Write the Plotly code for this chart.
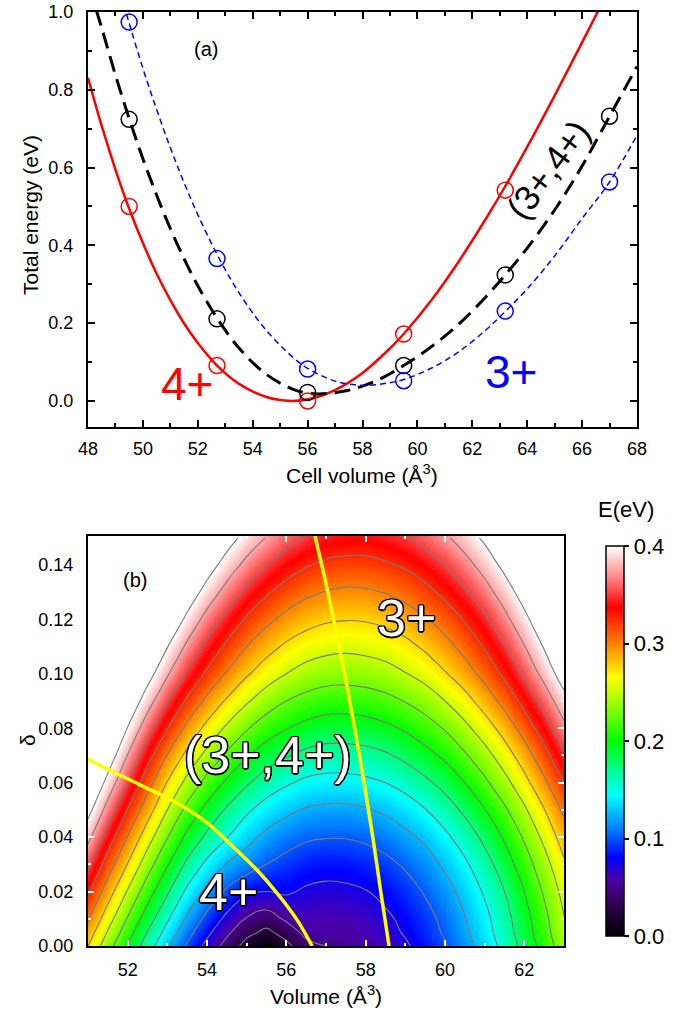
import numpy as np
import plotly.graph_objects as go

W, H = 685, 1019
FONT = "Liberation Sans, Arial, sans-serif"

# ---------------- panel (a): total energy vs cell volume ----------------
vol_pts = [49.5, 52.7, 56.0, 59.5, 63.2, 67.0]
e_4p_pts = [0.500, 0.091, 0.000, 0.172, 0.542]
e_34_pts = [0.724, 0.211, 0.022, 0.091, 0.324, 0.732]
e_3p_pts = [0.974, 0.366, 0.082, 0.052, 0.231, 0.563]

fit_v_4p = [48.0, 48.5, 49.0, 49.5, 50.0, 50.5, 51.0, 51.5, 52.0, 52.7, 53.5, 54.5, 55.4,
            56.2, 57.0, 58.0, 59.0, 59.5, 60.5, 61.5, 62.5, 63.2, 64.0, 65.0, 66.0, 66.6]
fit_e_4p = [0.831, 0.707, 0.595, 0.494, 0.406, 0.327, 0.259, 0.199, 0.149, 0.091, 0.044, 0.010, 0.000,
            0.007, 0.028, 0.072, 0.135, 0.172, 0.258, 0.358, 0.469, 0.552, 0.653, 0.785, 0.922, 1.005]

fit_v_34 = [48.3, 48.5, 49.0, 49.5, 50.0, 50.5, 51.0, 51.5, 52.0, 52.7, 53.5, 54.5, 55.5, 56.0,
            56.4, 57.4, 58.5, 59.5, 60.5, 61.5, 62.5, 63.2, 64.0, 65.0, 66.0, 67.0, 68.0]
fit_e_34 = [1.005, 0.959, 0.838, 0.726, 0.623, 0.529, 0.443, 0.366, 0.296, 0.213, 0.136, 0.068, 0.029, 0.020,
            0.018, 0.026, 0.052, 0.091, 0.139, 0.197, 0.268, 0.324, 0.393, 0.491, 0.604, 0.732, 0.860]

fit_v_3p = [49.4, 49.5, 50.0, 50.5, 51.0, 51.5, 52.0, 52.7, 53.5, 54.5, 55.5, 56.0, 57.0,
            58.0, 59.0, 59.5, 60.5, 61.5, 62.5, 63.2, 64.0, 65.0, 66.0, 67.0, 68.0]
fit_e_3p = [0.995, 0.971, 0.855, 0.749, 0.651, 0.561, 0.479, 0.377, 0.278, 0.181, 0.110, 0.084, 0.051,
            0.040, 0.047, 0.055, 0.084, 0.126, 0.183, 0.230, 0.288, 0.373, 0.469, 0.563, 0.683]

# ---------------- panel (b): energy map E(V, delta), in meV ----------------
vol_grid = [51.0, 51.5, 52.0, 52.5, 53.0, 53.5, 54.0, 54.5, 55.0, 55.5, 56.0, 56.5, 57.0,
            57.5, 58.0, 58.5, 59.0, 59.5, 60.0, 60.5, 61.0, 61.5, 62.0, 62.5, 63.0]
delta_grid = [0.0, 0.005, 0.01, 0.02, 0.03, 0.04, 0.05, 0.06, 0.07, 0.08, 0.09,
              0.10, 0.11, 0.12, 0.13, 0.14, 0.15]
energy_mev = [
    [275, 235, 198, 162, 129, 97, 68, 41, 16, 0, 18, 42, 50, 52, 56, 62, 72, 84, 98, 116, 135, 158, 183, 210, 240],
    [288, 248, 211, 174, 141, 109, 81, 55, 32, 19, 36, 57, 56, 57, 61, 68, 77, 89, 103, 121, 140, 163, 188, 215, 245],
    [302, 261, 223, 187, 153, 121, 93, 69, 48, 38, 54, 61, 59, 60, 64, 71, 80, 92, 106, 124, 143, 166, 191, 218, 249],
    [329, 287, 248, 211, 178, 145, 119, 96, 80, 75, 78, 72, 70, 71, 74, 81, 90, 102, 116, 133, 153, 175, 200, 228, 258],
    [355, 313, 274, 236, 202, 170, 144, 124, 112, 100, 92, 86, 83, 84, 88, 94, 103, 114, 129, 146, 165, 188, 213, 240, 271],
    [382, 339, 299, 261, 226, 194, 170, 151, 133, 119, 110, 103, 101, 101, 104, 110, 119, 130, 145, 161, 181, 203, 228, 256, 287],
    [409, 365, 324, 286, 250, 218, 193, 172, 154, 140, 130, 123, 120, 120, 123, 129, 138, 149, 163, 180, 199, 221, 246, 274, 305],
    [436, 391, 350, 310, 274, 243, 217, 196, 178, 163, 153, 145, 142, 142, 145, 150, 158, 170, 183, 200, 220, 242, 267, 295, 325],
    [462, 417, 374, 335, 299, 268, 243, 221, 202, 187, 177, 169, 165, 165, 167, 172, 181, 192, 205, 222, 241, 263, 288, 316, 347],
    [486, 440, 399, 360, 326, 294, 268, 246, 227, 212, 201, 193, 188, 188, 190, 195, 203, 214, 227, 244, 263, 285, 310, 338, 369],
    [500, 465, 423, 386, 352, 321, 294, 272, 253, 237, 225, 217, 212, 211, 213, 218, 226, 236, 250, 266, 286, 308, 333, 360, 391],
    [500, 490, 449, 411, 378, 347, 321, 298, 278, 262, 250, 241, 236, 235, 237, 241, 249, 259, 273, 289, 308, 330, 355, 383, 414],
    [500, 500, 473, 435, 401, 370, 343, 320, 300, 284, 271, 262, 257, 255, 257, 261, 268, 279, 292, 308, 327, 349, 374, 402, 432],
    [500, 500, 497, 459, 425, 394, 366, 343, 322, 306, 293, 284, 278, 276, 277, 281, 288, 298, 311, 327, 346, 368, 393, 421, 451],
    [500, 500, 500, 484, 449, 417, 390, 366, 345, 328, 315, 305, 299, 296, 297, 301, 308, 318, 331, 347, 365, 387, 412, 440, 471],
    [500, 500, 500, 500, 473, 441, 413, 389, 368, 351, 337, 327, 320, 318, 318, 322, 328, 338, 351, 366, 385, 407, 432, 459, 490],
    [500, 500, 500, 500, 498, 466, 437, 412, 391, 374, 360, 349, 342, 339, 339, 343, 349, 359, 371, 387, 405, 427, 452, 479, 500],
]
energy_map = np.array(energy_mev, dtype=float) / 1000.0

# phase boundaries
bnd1_v = [51.0, 51.05, 52.31, 53.24, 54.0, 54.66, 55.26, 55.76, 56.27, 56.65]
bnd1_d = [0.0690, 0.0683, 0.0592, 0.0525, 0.0452, 0.0364, 0.0279, 0.0195, 0.0096, 0.0]
bnd2_v = [56.72, 56.97, 57.22, 57.47, 57.72, 57.96, 58.18, 58.38, 58.59]
bnd2_d = [0.1506, 0.135, 0.118, 0.100, 0.080, 0.060, 0.040, 0.020, 0.0]

cmap = [
    [0.000, "#000000"], [0.050, "#1e0030"], [0.100, "#3c0068"], [0.150, "#4800b0"],
    [0.200, "#0000ff"], [0.275, "#0080ff"], [0.3625, "#00ffff"], [0.425, "#00ff90"],
    [0.500, "#00ff00"], [0.600, "#a0ff00"], [0.6625, "#ffff00"], [0.750, "#ff8000"],
    [0.8425, "#ff0000"], [0.925, "#ff9090"], [1.000, "#ffffff"],
]

fig = go.Figure()

# panel (a) curves
fig.add_trace(go.Scatter(x=fit_v_4p, y=fit_e_4p, mode="lines", line=dict(color="#ff0000", width=2.5, shape="spline"),
                         xaxis="x", yaxis="y", showlegend=False, hoverinfo="skip"))
fig.add_trace(go.Scatter(x=fit_v_34, y=fit_e_34, mode="lines",
                         line=dict(color="#000000", width=3, shape="spline", dash="16px,8px"),
                         xaxis="x", yaxis="y", showlegend=False, hoverinfo="skip"))
fig.add_trace(go.Scatter(x=fit_v_3p, y=fit_e_3p, mode="lines",
                         line=dict(color="#0000ff", width=1.5, shape="spline", dash="6px,4px"),
                         xaxis="x", yaxis="y", showlegend=False, hoverinfo="skip"))
for ys, col in [(e_4p_pts, "#ff0000"), (e_34_pts, "#000000"), (e_3p_pts, "#0000ff")]:
    fig.add_trace(go.Scatter(x=vol_pts[:len(ys)], y=ys, mode="markers",
                             marker=dict(symbol="circle-open", size=16, color=col, line=dict(width=1.5, color=col)),
                             xaxis="x", yaxis="y", showlegend=False, cliponaxis=False))

# panel (b) map
fig.add_trace(go.Heatmap(x=vol_grid, y=delta_grid, z=energy_map, zmin=0, zmax=0.4, zsmooth="best",
                         colorscale=cmap, xaxis="x2", yaxis="y2", hoverinfo="skip",
                         colorbar=dict(x=596 / W, xanchor="left", y=1 - 946 / H, yanchor="bottom",
                                       len=410 / H, lenmode="fraction", thickness=18,
                                       outlinewidth=1.5, outlinecolor="#000000",
                                       ticks="outside", ticklen=5, tickwidth=1.5, tickcolor="#000000",
                                       tickvals=[0, 0.1, 0.2, 0.3, 0.4], tickformat=".1f",
                                       tickfont=dict(family=FONT, size=22, color="#000000"))))
fig.add_trace(go.Contour(x=vol_grid, y=delta_grid, z=energy_map, showscale=False,
                         contours=dict(start=0.025, end=0.401, size=0.025, coloring="none"),
                         line=dict(color="#7a7a7a", width=1.1, smoothing=1.3),
                         xaxis="x2", yaxis="y2", hoverinfo="skip"))
for bx, by in [(bnd1_v, bnd1_d), (bnd2_v, bnd2_d)]:
    fig.add_trace(go.Scatter(x=bx, y=by, mode="lines", line=dict(color="#ffff00", width=3.5, shape="spline"),
                             xaxis="x2", yaxis="y2", showlegend=False, hoverinfo="skip"))

tick_font = dict(family=FONT, size=18, color="#000000")
common = dict(showline=True, linecolor="#000000", linewidth=2, mirror="ticks", showgrid=False, zeroline=False,
              tickfont=tick_font)

fig.update_layout(
    width=W, height=H, margin=dict(l=0, r=0, t=0, b=0, autoexpand=False),
    paper_bgcolor="white", plot_bgcolor="white", showlegend=False,
    font=dict(family=FONT, color="#000000"),
    xaxis=dict(domain=[88 / W, 637 / W], anchor="y", range=[48, 68], dtick=2, tick0=48,
               ticks="inside", ticklen=7, tickwidth=1.5, tickcolor="#000000", ticklabelstandoff=4,
               minor=dict(dtick=1, ticks="inside", ticklen=4, tickwidth=1.5, tickcolor="#000000"), **common),
    yaxis=dict(domain=[1 - 427 / H, 1 - 12 / H], anchor="x", range=[-0.067, 1.0], dtick=0.2, tick0=0,
               tickformat=".1f", ticks="inside", ticklen=7, tickwidth=1.5, tickcolor="#000000",
               ticklabelstandoff=9,
               minor=dict(dtick=0.1, ticks="inside", ticklen=4, tickwidth=1.5, tickcolor="#000000"), **common),
    xaxis2=dict(domain=[88 / W, 564 / W], anchor="y2", range=[51, 63], dtick=2, tick0=52,
                ticks="inside", ticklen=6, tickwidth=1.5, tickcolor="#ffffff", ticklabelstandoff=6,
                minor=dict(dtick=1, ticks="inside", ticklen=3, tickwidth=1.5, tickcolor="#ffffff"), **common),
    yaxis2=dict(domain=[1 - 946 / H, 1 - 536 / H], anchor="x2", range=[0, 0.1506], dtick=0.02, tick0=0,
                tickformat=".2f", ticks="inside", ticklen=6, tickwidth=1.5, tickcolor="#ffffff",
                ticklabelstandoff=9,
                minor=dict(dtick=0.01, ticks="inside", ticklen=3, tickwidth=1.5, tickcolor="#ffffff"), **common),
)

outline = ", ".join(f"{dx}px {dy}px 0 #000" for dx, dy in
                    [(-1.5, 0), (1.5, 0), (0, -1.5), (0, 1.5), (-1.2, -1.2), (1.2, -1.2), (-1.2, 1.2), (1.2, 1.2)])
big_white = dict(family=FONT, size=52, color="#ffffff", shadow=outline)
C = dict(xanchor="center", yanchor="middle", showarrow=False)

ann = [
    # panel (a)
    dict(x=52.3, y=0.905, xref="x", yref="y", text="(a)", font=dict(family=FONT, size=20), **C),
    dict(x=51.6, y=0.043, xref="x", yref="y", text="4+", font=dict(family=FONT, size=46, color="#ff0000"), **C),
    dict(x=63.4, y=0.075, xref="x", yref="y", text="3+", font=dict(family=FONT, size=46, color="#0000ff"), **C),
    dict(x=64.76, y=0.594, xref="x", yref="y", text="(3+,4+)", textangle=-53,
         font=dict(family=FONT, size=35, color="#000000"), **C),
    dict(x=362 / W, y=1 - 474 / H, xref="paper", yref="paper", text="Cell volume (Å<sup>3</sup>)",
         font=dict(family=FONT, size=21), **C),
    dict(x=30 / W, y=1 - 215 / H, xref="paper", yref="paper", text="Total energy (eV)", textangle=-90,
         font=dict(family=FONT, size=21), **C),
    # panel (b)
    dict(x=52.18, y=0.1345, xref="x2", yref="y2", text="(b)", font=dict(family=FONT, size=20), **C),
    dict(x=59.04, y=0.1205, xref="x2", yref="y2", text="3+", font=big_white, **C),
    dict(x=55.54, y=0.0702, xref="x2", yref="y2", text="(3+,4+)", font=big_white, **C),
    dict(x=54.53, y=0.0198, xref="x2", yref="y2", text="4+", font=big_white, **C),
    dict(x=326 / W, y=1 - 995 / H, xref="paper", yref="paper", text="Volume (Å<sup>3</sup>)",
         font=dict(family=FONT, size=21), **C),
    dict(x=27 / W, y=1 - 740 / H, xref="paper", yref="paper", text="δ", textangle=-90,
         font=dict(family=FONT, size=21), **C),
    dict(x=626 / W, y=1 - 510 / H, xref="paper", yref="paper", text="E(eV)", font=dict(family=FONT, size=22), **C),
]
fig.update_layout(annotations=ann)

fig.write_html("out.html")
